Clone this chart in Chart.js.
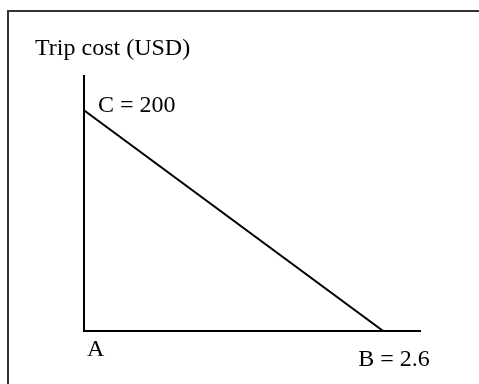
<!DOCTYPE html>
<html lang="en">
<head>
    <meta charset="UTF-8">
    <title>Trip cost</title>
    <style>
        html, body { margin: 0; padding: 0; background: #fff; }
        #wrap { width: 479px; height: 384px; }
    </style>
</head>
<body>
    <div id="wrap">
        <canvas id="myChart" width="479" height="384"></canvas>
    </div>
    <script src="https://cdn.jsdelivr.net/npm/chart.js"></script>
    <script>
        // values
        const yTitle = 'Trip cost (USD)';
        const xValues = [0, 2.6];
        const yValues = [200, 0];
        const pointLabels = ['C = 200', 'B = 2.6'];
        const originLabel = 'A';
        const xMax = 2.92;
        const yMax = 231;

        const fontSpec = '24px "Liberation Serif", "Times New Roman", serif';

        // frame around the whole figure (right and bottom edges fall outside)
        const framePlugin = {
            id: 'framePlugin',
            beforeDraw: (chart) => {
                const ctx = chart.ctx;
                ctx.save();
                ctx.fillStyle = '#fff';
                ctx.fillRect(0, 0, chart.width, chart.height);
                ctx.strokeStyle = '#333';
                ctx.lineWidth = 2;
                ctx.strokeRect(8, 11, chart.width + 20, chart.height + 20);
                ctx.restore();
            }
        };

        const labelPlugin = {
            id: 'labelPlugin',
            afterDraw: (chart) => {
                const ctx = chart.ctx;
                const xScale = chart.scales['x'];
                const yScale = chart.scales['y'];
                ctx.save();
                ctx.font = fontSpec;
                ctx.fillStyle = '#000';
                ctx.textBaseline = 'alphabetic';
                ctx.textAlign = 'left';

                // title above the y axis
                ctx.fillText(yTitle, xScale.getPixelForValue(0) - 49, yScale.top - 21);

                // C label next to the intercept on the y axis
                ctx.fillText(pointLabels[0], xScale.getPixelForValue(xValues[0]) + 14, yScale.getPixelForValue(yValues[0]) + 2);

                // origin
                ctx.fillText(originLabel, xScale.getPixelForValue(0) + 3, yScale.getPixelForValue(0) + 25);

                // B label under the x intercept
                ctx.fillText(pointLabels[1], xScale.getPixelForValue(xValues[1]) - 25, yScale.getPixelForValue(yValues[1]) + 35);
                ctx.restore();
            }
        };

        const ctx = document.getElementById('myChart').getContext('2d');
        new Chart(ctx, {
            type: 'line',
            data: {
                datasets: [{
                    data: xValues.map((x, i) => ({ x: x, y: yValues[i] })),
                    borderColor: '#000',
                    borderWidth: 2,
                    pointRadius: 0,
                    fill: false,
                    tension: 0
                }]
            },
            options: {
                responsive: false,
                animation: false,
                events: [],
                layout: {
                    padding: { left: 84, top: 76, right: 59, bottom: 53 }
                },
                scales: {
                    x: {
                        type: 'linear',
                        min: 0,
                        max: xMax,
                        grid: { display: false, drawTicks: false },
                        border: { display: true, color: '#000', width: 2 },
                        ticks: { display: false }
                    },
                    y: {
                        type: 'linear',
                        min: 0,
                        max: yMax,
                        grid: { display: false, drawTicks: false },
                        border: { display: true, color: '#000', width: 2 },
                        ticks: { display: false }
                    }
                },
                plugins: {
                    legend: { display: false },
                    tooltip: { enabled: false },
                    title: { display: false }
                }
            },
            plugins: [framePlugin, labelPlugin]
        });
    </script>
</body>
</html>
